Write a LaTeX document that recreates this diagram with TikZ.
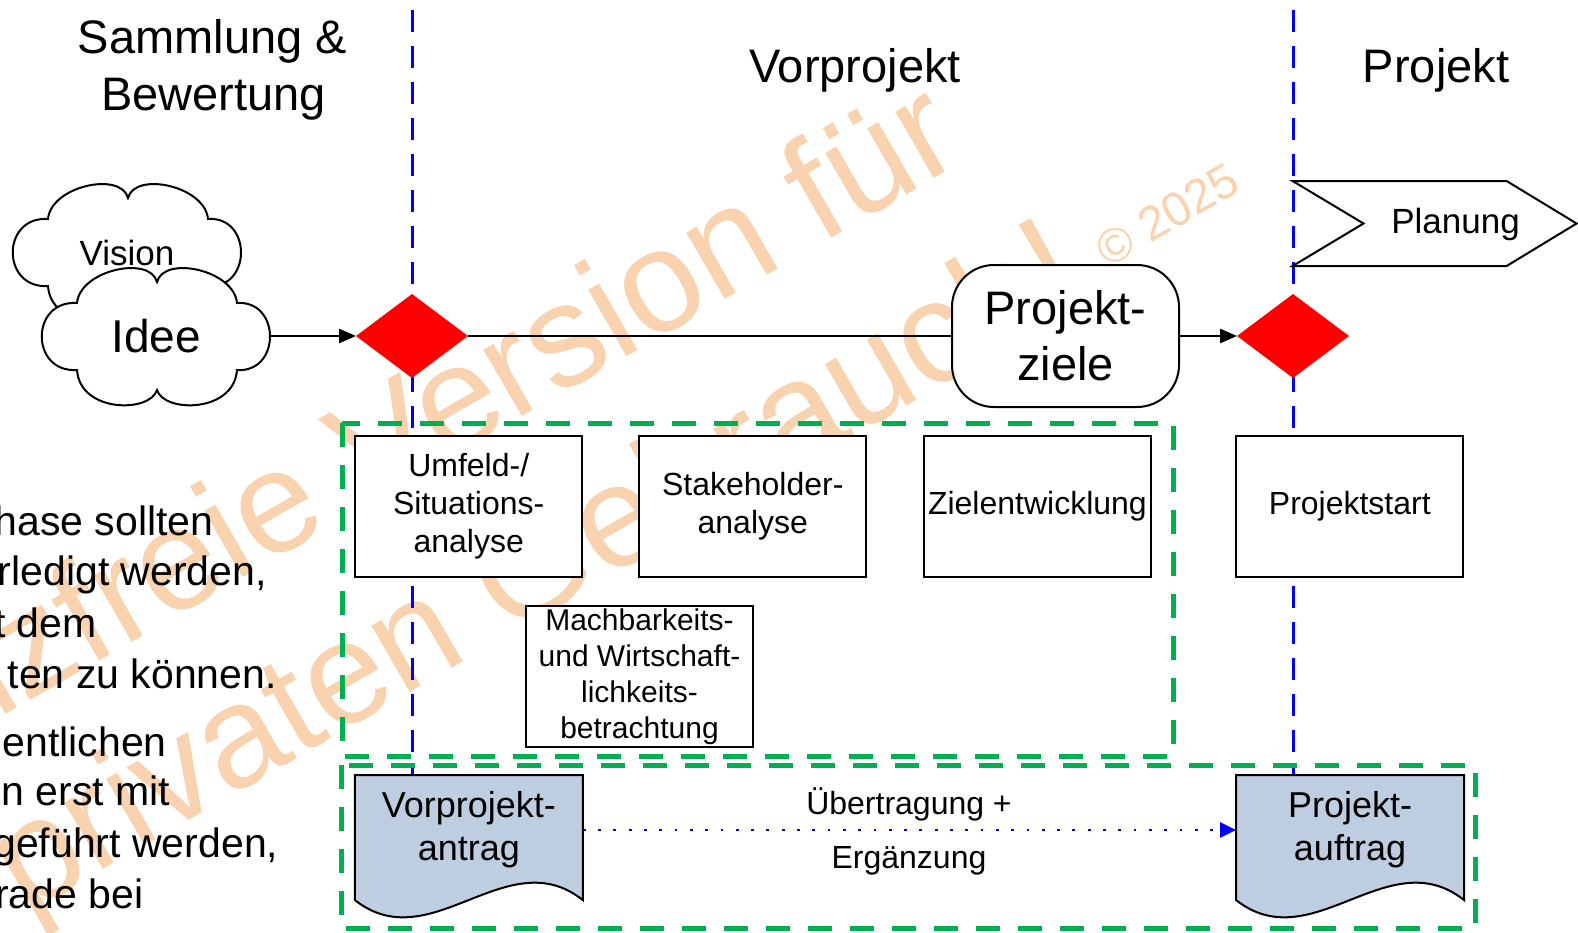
\documentclass[tikz,border=0pt]{standalone}
\usepackage{fontspec}
\setmainfont{Liberation Sans}
\usetikzlibrary{shapes.geometric,arrows.meta}
\definecolor{wmark}{RGB}{249,210,175}
\definecolor{grn}{RGB}{0,176,80}
\definecolor{docblue}{RGB}{190,206,224}
\newcommand{\myfs}[2]{\fontsize{#1pt}{#2pt}\selectfont}
\pgfdeclarelayer{wm}
\pgfdeclarelayer{bg}
\pgfsetlayers{wm,bg,main}
\tikzset{
  cloudpic/.pic={
    \path[draw, line width=2pt, fill=white]
      (-79,-33) .. controls (-76,-66) and (-6,-81) .. (1,-54)
      .. controls (8,-81) and (78,-66) .. (81,-33)
      .. controls (125,-36) and (125,37) .. (81,34)
      .. controls (78,77) and (8,77) .. (1,54)
      .. controls (-6,77) and (-76,77) .. (-79,34)
      .. controls (-126,37) and (-126,-36) .. (-79,-33) -- cycle;
  },
  docpic/.pic={
    \path[draw, line width=2pt, fill=docblue]
      (-114,-62.5) -- (114,-62.5) -- (114,62.5)
      .. controls (38,2.5) and (-38,122.5) .. (-114,62.5) -- cycle;
  }
}
\begin{document}
\begin{tikzpicture}[x=1pt,y=-1pt,
  every node/.style={inner sep=0pt, outer sep=0pt},
  wmtext/.style={text=wmark, rotate=30, font=\myfs{145}{167}},
  phase/.style={font=\myfs{47}{57}, anchor=base},
  lefttext/.style={font=\myfs{41}{51}, anchor=base east},
  task/.style={draw, line width=2pt, fill=white, minimum width=227pt, minimum height=141pt, align=center, font=\myfs{32}{38}},
  gate/.style={diamond, fill=red, minimum width=112pt, minimum height=84pt},
  flow/.style={line width=2.5pt, -{Triangle[length=17pt,width=14pt]}},
  plainflow/.style={line width=2.5pt},
  phaseline/.style={blue, line width=3pt, dash pattern=on 22pt off 14pt},
  groupbox/.style={grn, line width=5pt, dash pattern=on 24pt off 18pt},
  doctext/.style={minimum width=228pt, align=center, font=\myfs{36}{43}},
  transfer/.style={blue, line width=2.8pt, dash pattern=on 2.8pt off 12.5pt, -{Triangle[length=16pt,width=15pt]}},
  lbl/.style={font=\myfs{32}{38}, anchor=base}
]
\useasboundingbox (0,0) rectangle (1578,932);

% watermark
\begin{pgfonlayer}{wm}
\node[wmtext, anchor=base east] (wm1) at (967.7,159.6) {Lizenzfreie Version für};
\node[wmtext, anchor=base west] (wm2) at (25,915) {privaten Gebrauch!};
\node[wmtext, anchor=base west, font=\myfs{48}{52}] (wm3) at (1108,268) {© 2025};
\end{pgfonlayer}

% phase boundaries and groups
\begin{pgfonlayer}{bg}
\coordinate (p1top) at (412,10);
\coordinate (p1bot) at (412,775);
\coordinate (p2top) at (1293,10);
\coordinate (p2bot) at (1293,775);
\draw[phaseline] (p1top) -- (p1bot);
\draw[phaseline] (p2top) -- (p2bot);
\draw[groupbox] (342,423) rectangle (1173,756);
\draw[groupbox] (341,765) rectangle (1475,928);
\end{pgfonlayer}

% headings
\node[phase] (h1a) at (212.5,53) {Sammlung \&};
\node[phase] (h1b) at (213.5,110) {Bewertung};
\node[phase] (h2) at (855,82) {Vorprojekt};
\node[phase] (h3) at (1436,82) {Projekt};

% clouds
\pic at (127,252) {cloudpic};
\node[font=\myfs{35}{40}] (vision) at (127,253) {Vision};
\pic at (156,336) {cloudpic};
\node[minimum width=228pt, minimum height=142pt, font=\myfs{46}{52}] (idee) at (156,336) {Idee};

% gates
\node[gate] (d1) at (412,336) {};
\node[gate] (d2) at (1293,336) {};

% project goals
\node[draw, line width=2pt, fill=white, rounded corners=42pt, minimum width=227pt, minimum height=142pt, align=center, font=\myfs{47}{56}] (ziele) at (1065.5,336) {Projekt-\\ziele};

% planning chevron
\path[draw, line width=2pt, fill=white] (1292.6,181) -- (1506.6,181) -- (1576.6,223.5) -- (1506.6,266) -- (1292.6,266) -- (1363.5,223.5) -- cycle;
\node[font=\myfs{35}{40}, anchor=base] (planung) at (1455.5,233) {Planung};

% tasks
\node[task] (umfeld) at (468.7,506.7) {Umfeld-/\\Situations-\\analyse};
\node[task] (stake) at (752.8,506.7) {Stakeholder-\\analyse};
\node[task] (zielent) at (1037.4,506.7) {Zielentwicklung};
\node[task] (start) at (1349.8,506.7) {Projektstart};
\node[task, font=\myfs{30}{36}] (machbar) at (639.5,676.5) {Machbarkeits-\\und Wirtschaft-\\lichkeits-\\betrachtung};

% documents
\pic at (468.8,837.5) {docpic};
\pic at (1350,837.5) {docpic};
\node[doctext] (antrag) at (468.8,830) {Vorprojekt-\\antrag};
\node[doctext] (auftrag) at (1350,830) {Projekt-\\auftrag};

% connectors
\draw[flow] (idee.east) -- (d1.west);
\draw[plainflow] (d1.east) -- (ziele.west);
\draw[flow] (ziele.east) -- (d2.west);
\draw[transfer] (antrag.east) -- (auftrag.west);
\node[lbl] (lab1) at (909,814) {Übertragung +};
\node[lbl] (lab2) at (909,868) {Ergänzung};

% left text (cut off at the left edge)
\node[lefttext] (t1) at (213.3,535) {hase sollten};
\node[lefttext] (t2) at (266.7,585) {rledigt werden,};
\node[lefttext] (t3) at (96.7,637) {t dem};
\node[lefttext] (t4) at (276.7,688) {ten zu können.};
\node[lefttext] (t5) at (166.7,756) {entlichen};
\node[lefttext] (t6) at (170,805) {n erst mit};
\node[lefttext] (t7) at (278.3,857) {geführt werden,};
\node[lefttext] (t8) at (143.3,908) {rade bei};
\end{tikzpicture}
\end{document}
